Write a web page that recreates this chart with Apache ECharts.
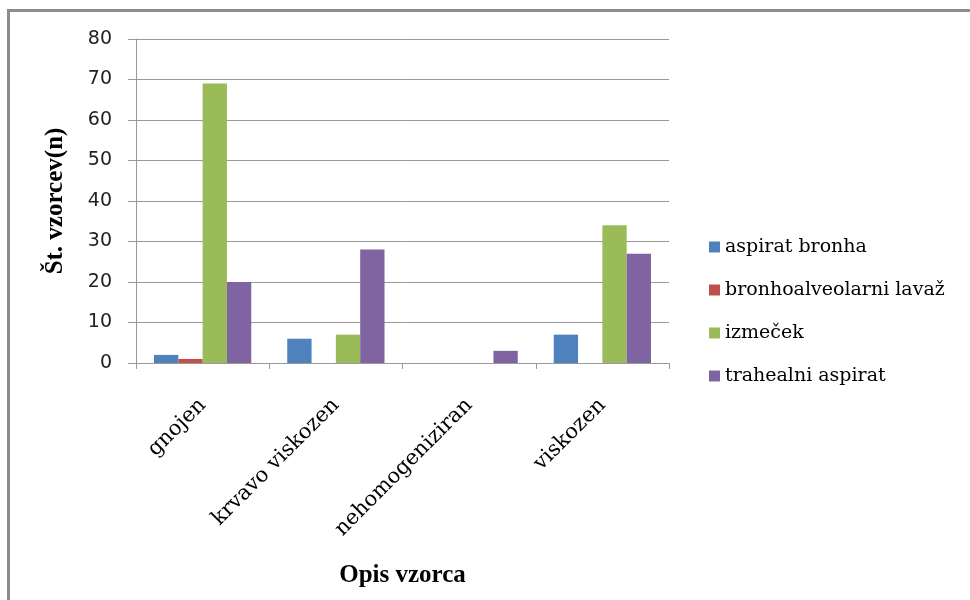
<!DOCTYPE html>
<html>
<head>
<meta charset="utf-8">
<script src="https://cdn.jsdelivr.net/npm/echarts@6/dist/echarts.min.js"></script>
<style>
  html, body { margin: 0; padding: 0; background: #fff; }
  #frame {
    position: absolute; left: 7px; top: 9px; width: 980px; height: 610px;
    border: 3px solid #8c8c8c; box-sizing: border-box;
  }
  #chart { position: absolute; left: 0; top: 0; width: 970px; height: 600px; }
</style>
</head>
<body>
<div id="frame"></div>
<div id="chart"></div>
<script>
const categories = ["gnojen", "krvavo viskozen", "nehomogeniziran", "viskozen"];
const seriesNames = ["aspirat bronha", "bronhoalveolarni lavaž", "izmeček", "trahealni aspirat"];
const aspiratBronha = [2, 6, 0, 7];
const bronhoalveolarniLavaz = [1, 0, 0, 0];
const izmecek = [69, 7, 0, 34];
const trahealniAspirat = [20, 28, 3, 27];
const seriesColors = ["#4f81bd", "#c0504d", "#9bbb59", "#8064a2"];

const serif = "'DejaVu Serif', 'Liberation Serif', serif";
const titleSerif = "'Liberation Serif', 'DejaVu Serif', serif";
const chart = echarts.init(document.getElementById("chart"), null, { renderer: "canvas" });

const values = [aspiratBronha, bronhoalveolarniLavaz, izmecek, trahealniAspirat];

chart.setOption({
  animation: false,
  color: seriesColors,
  grid: { left: 136, right: 301, top: 39, bottom: 237 },
  legend: {
    orient: "vertical",
    left: 704,
    top: 232,
    icon: "rect",
    itemWidth: 11,
    itemHeight: 11,
    itemGap: 23,
    textStyle: { fontFamily: serif, fontSize: 19, color: "#000", lineHeight: 20 },
  },
  xAxis: {
    type: "category",
    data: categories,
    name: "Opis vzorca",
    nameLocation: "middle",
    nameGap: 200,
    nameTextStyle: { fontFamily: titleSerif, fontSize: 25, fontWeight: "bold", color: "#000" },
    axisLine: { lineStyle: { color: "#999", width: 1 } },
    axisTick: { show: true, length: 6, lineStyle: { color: "#999" } },
    axisLabel: {
      rotate: 45, margin: 39, fontFamily: serif, fontSize: 21, color: "#000",
    },
  },
  yAxis: {
    type: "value",
    min: 0,
    max: 80,
    interval: 10,
    name: "Št. vzorcev(n)",
    nameLocation: "middle",
    nameGap: 68,
    nameTextStyle: { fontFamily: titleSerif, fontSize: 25, fontWeight: "bold", color: "#000" },
    axisLine: { show: true, lineStyle: { color: "#999", width: 1 } },
    axisTick: { show: true, length: 8, lineStyle: { color: "#999" } },
    axisLabel: { margin: 24, fontFamily: "'DejaVu Sans', sans-serif", fontSize: 19, color: "#222" },
    splitLine: { lineStyle: { color: "#999", width: 1 } },
  },
  series: seriesNames.map((name, i) => ({
    name,
    type: "bar",
    data: values[i],
    barGap: "0%",
    barCategoryGap: "27%",
  })),
});
</script>
</body>
</html>
